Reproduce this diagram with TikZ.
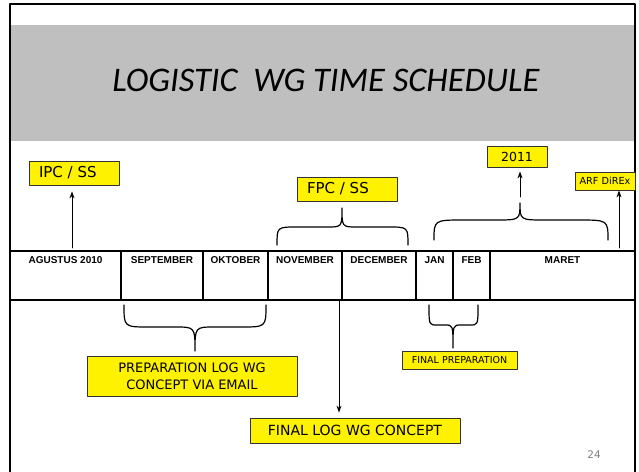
\documentclass[tikz,border=0pt]{standalone}
\usepackage{fontspec}
\setmainfont{DejaVu Sans}
\newfontfamily\titlefont{Carlito}
\newfontfamily\cellfont{Liberation Sans}
\usetikzlibrary{positioning,arrows.meta}
\definecolor{banner}{RGB}{191,191,191}
\tikzset{
	ybox/.style={draw=black!80, line width=0.8pt, fill=yellow, inner sep=0pt},
	month/.style={font=\cellfont\bfseries\fontsize{10}{12}\selectfont},
	grid/.style={line width=1.8pt}
}
\begin{document}
\begin{tikzpicture}[x=1pt, y=-1pt, >={Stealth[length=7pt,width=5pt]}, line join=round, line cap=round]
	\useasboundingbox (0,0) rectangle (639,471);
	\clip (0,0) rectangle (639,471);
	% title banner
	\fill[banner] (10,25) rectangle (635,141);
	\node (title) at (326,80) {\titlefont\itshape\fontsize{34.5}{40}\selectfont LOGISTIC\ \ WG TIME SCHEDULE};
	\draw[line width=2pt] (10,480)--(10,4)--(635,4)--(635,480);
	% months
	\draw[grid] (10,251)--(635,251) (10,300)--(635,300);
	\foreach \xa/\xb/\m [count=\i] in {10/121/AGUSTUS 2010, 121/203/SEPTEMBER, 203/268/OKTOBER, 268/342/NOVEMBER, 342/416/DECEMBER, 416/453/JAN, 453/490/FEB, 490/635/MARET}{
		\draw[grid] (\xb,251)--(\xb,300);
		\node[month] (mon\i) at ({(\xa+\xb)/2},260) {\m};
	}
	% braces
	\foreach \xa/\xb/\yb/\ym/\xm/\yt/\r/\s in {277/408/245/227/342/208/20/15, 434/608/240/220/520/203/30/25, 124/266/305/327/195/351/25/20, 429/478/305/325/453/348/8/8}
	\draw[line width=1.2pt] (\xa,\yb) .. controls (\xa,\ym) .. (\xa+\r,\ym) -- (\xm-\s,\ym) .. controls (\xm,\ym) .. (\xm,\yt)
		.. controls (\xm,\ym) .. (\xm+\s,\ym) -- (\xb-\r,\ym) .. controls (\xb,\ym) .. (\xb,\yb);
	% boxes
	\node[ybox, minimum width=90pt, minimum height=24pt, font=\fontsize{15}{18}\selectfont] (ipc) at (74,173) {\makebox[70pt][l]{IPC / SS}};
	\node[ybox, minimum width=100pt, minimum height=24pt, font=\fontsize{15}{18}\selectfont] (fpc) at (347,189) {\makebox[80pt][l]{FPC / SS}};
	\node[ybox, minimum width=60pt, minimum height=21pt, font=\fontsize{12.5}{15}\selectfont] (y2011) at (517,156.5) {2011};
	\node[ybox, minimum width=60pt, minimum height=18pt, font=\fontsize{9.7}{12}\selectfont] (arf) at (605,181) {ARF DiREx};
	\node[ybox, minimum width=210pt, minimum height=40pt, align=center, font=\fontsize{13}{16.7}\selectfont] (prep) at (192,376) {PREPARATION LOG WG\\CONCEPT VIA EMAIL};
	\node[ybox, minimum width=210pt, minimum height=25pt, font=\fontsize{14}{17}\selectfont] (finlog) at (355,430.5) {FINAL LOG WG CONCEPT};
	\node[ybox, minimum width=115pt, minimum height=18pt, font=\fontsize{9.5}{12}\selectfont] (finprep) at (459.5,360) {FINAL PREPARATION};
	\node[gray, font=\fontsize{10.5}{12}\selectfont] (page) at (594,455) {24};
	% arrows
	\coordinate (upAg) at (72,248);
	\coordinate (up2011) at (520,197);
	\coordinate (upArf) at (619,248);
	\coordinate (downFin) at (339,301);
	\draw[->, line width=0.9pt, shorten >=6pt] (upAg)--(upAg |- ipc.south);
	\draw[->, line width=0.9pt, shorten >=4pt] (up2011)--(up2011 |- y2011.south);
	\draw[->, line width=0.9pt] (upArf)--(upArf |- arf.south);
	\draw[->, line width=0.9pt, shorten >=5pt] (downFin)--(downFin |- finlog.north);
\end{tikzpicture}
\end{document}
